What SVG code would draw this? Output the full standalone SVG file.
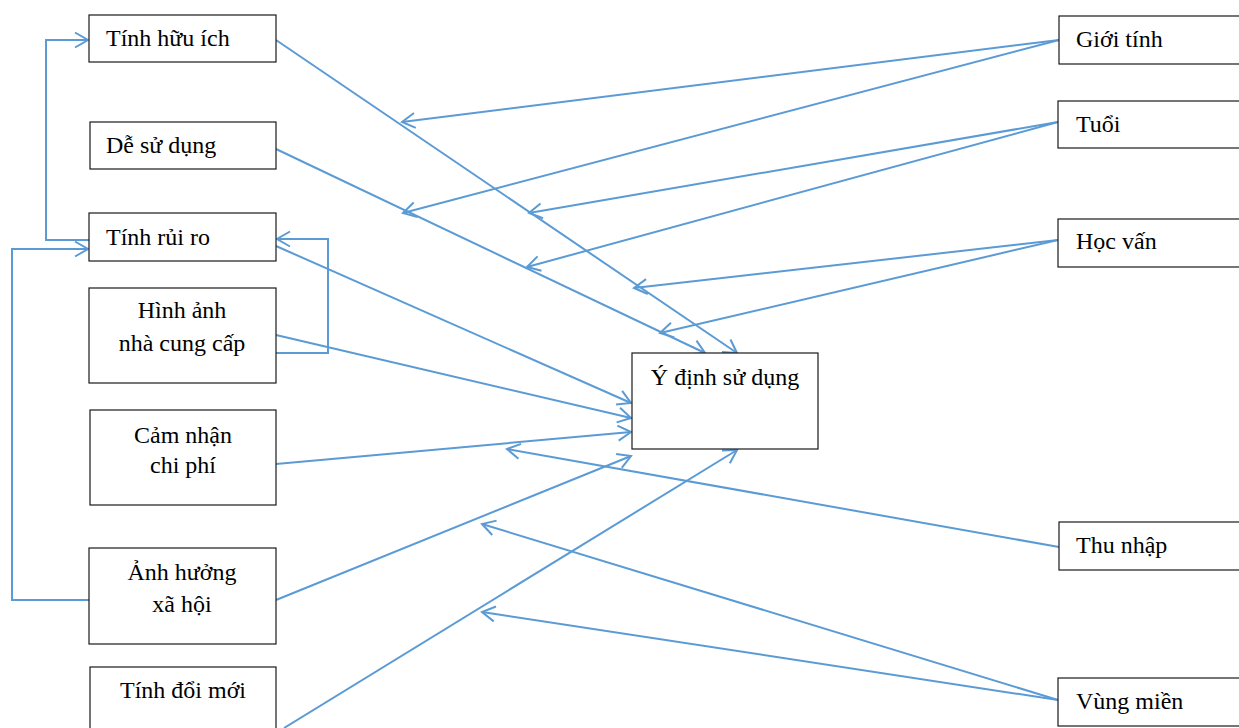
<svg xmlns="http://www.w3.org/2000/svg" width="1239" height="728" viewBox="0 0 1239 728">
  <style>
    .box { fill: #ffffff; stroke: #1a1a1a; stroke-width: 1.2; }
    .lbl { font-family: "Liberation Serif", "Times New Roman", serif; font-size: 24px; fill: #000000; }
    .mid { text-anchor: middle; }
    .link { fill: none; stroke: #5B9BD5; stroke-width: 2; }
    .arr { marker-end: url(#open); }
  </style>
  <defs>
    <marker id="open" markerUnits="userSpaceOnUse" markerWidth="18" markerHeight="18" refX="14" refY="8" orient="auto" overflow="visible">
      <path d="M1,0.5 L14,8 L1,15.5" fill="none" stroke="#5B9BD5" stroke-width="2"/>
    </marker>
  </defs>

  <rect width="1239" height="728" fill="#ffffff"/>

  <!-- connectors -->
  <g id="connectors">
    <!-- left factors to intention -->
    <line class="link arr" x1="276" y1="40" x2="737" y2="353"/>
    <line class="link arr" x1="276" y1="149" x2="705" y2="353"/>
    <line class="link arr" x1="276" y1="246" x2="631" y2="403"/>
    <line class="link arr" x1="276" y1="335" x2="631" y2="418"/>
    <line class="link arr" x1="276" y1="464" x2="631" y2="432"/>
    <line class="link arr" x1="276" y1="600" x2="631" y2="456"/>
    <line class="link arr" x1="284" y1="728" x2="737" y2="450"/>
    <!-- feedback loops -->
    <polyline class="link arr" points="276,353 328,353 328,239 277,239"/>
    <polyline class="link arr" points="89,240 46,240 46,40 88,40"/>
    <polyline class="link arr" points="89,600 12,600 12,249 88,249"/>
    <!-- demographic moderators -->
    <line class="link arr" x1="1059" y1="40" x2="402" y2="122"/>
    <line class="link arr" x1="1059" y1="40" x2="403" y2="213"/>
    <line class="link arr" x1="1058" y1="122" x2="529" y2="213"/>
    <line class="link arr" x1="1058" y1="122" x2="527" y2="267"/>
    <line class="link arr" x1="1058" y1="240" x2="634" y2="288"/>
    <line class="link arr" x1="1058" y1="240" x2="660" y2="333"/>
    <line class="link arr" x1="1059" y1="547" x2="507" y2="449"/>
    <line class="link arr" x1="1058" y1="700" x2="482" y2="524"/>
    <line class="link arr" x1="1058" y1="700" x2="482" y2="612"/>
  </g>

  <!-- left column -->
  <g id="tinh-huu-ich">
    <rect class="box" x="89" y="15" width="187" height="47"/>
    <text class="lbl" x="106" y="46">Tính hữu ích</text>
  </g>
  <g id="de-su-dung">
    <rect class="box" x="90" y="122" width="186" height="47"/>
    <text class="lbl" x="106" y="153">Dễ sử dụng</text>
  </g>
  <g id="tinh-rui-ro">
    <rect class="box" x="89" y="213" width="187" height="48"/>
    <text class="lbl" x="106" y="245">Tính rủi ro</text>
  </g>
  <g id="hinh-anh">
    <rect class="box" x="89" y="288" width="187" height="95"/>
    <text class="lbl mid" x="182" y="318">Hình ảnh</text>
    <text class="lbl mid" x="182" y="351">nhà cung cấp</text>
  </g>
  <g id="cam-nhan-chi-phi">
    <rect class="box" x="90" y="410" width="186" height="95"/>
    <text class="lbl mid" x="183" y="443">Cảm nhận</text>
    <text class="lbl mid" x="183" y="473">chi phí</text>
  </g>
  <g id="anh-huong-xa-hoi">
    <rect class="box" x="89" y="548" width="187" height="96"/>
    <text class="lbl mid" x="182" y="580">Ảnh hưởng</text>
    <text class="lbl mid" x="182" y="612">xã hội</text>
  </g>
  <g id="tinh-doi-moi">
    <rect class="box" x="90" y="667" width="186" height="70"/>
    <text class="lbl mid" x="183" y="698">Tính đổi mới</text>
  </g>

  <!-- outcome -->
  <g id="y-dinh-su-dung">
    <rect class="box" x="632" y="353" width="186" height="96"/>
    <text class="lbl mid" x="725" y="385">Ý định sử dụng</text>
  </g>

  <!-- right column -->
  <g id="gioi-tinh">
    <rect class="box" x="1059" y="16" width="190" height="48"/>
    <text class="lbl" x="1076" y="47">Giới tính</text>
  </g>
  <g id="tuoi">
    <rect class="box" x="1058" y="101" width="190" height="47"/>
    <text class="lbl" x="1076" y="132">Tuổi</text>
  </g>
  <g id="hoc-van">
    <rect class="box" x="1058" y="219" width="190" height="48"/>
    <text class="lbl" x="1076" y="249">Học vấn</text>
  </g>
  <g id="thu-nhap">
    <rect class="box" x="1059" y="522" width="190" height="48"/>
    <text class="lbl" x="1076" y="553">Thu nhập</text>
  </g>
  <g id="vung-mien">
    <rect class="box" x="1058" y="678" width="190" height="48"/>
    <text class="lbl" x="1076" y="709">Vùng miền</text>
  </g>
</svg>
